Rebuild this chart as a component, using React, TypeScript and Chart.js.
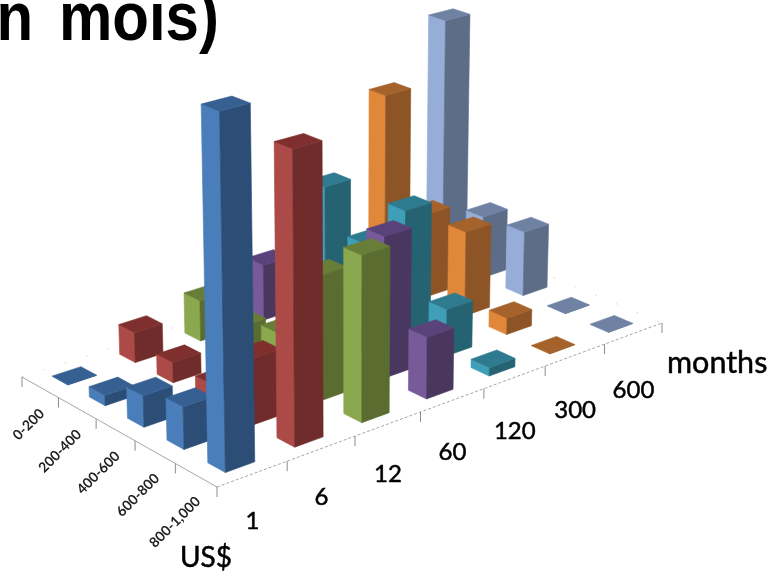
import React, { useEffect, useRef } from "react";
import { Chart, registerables } from "chart.js";

Chart.register(...registerables);

const heading = "n mois)";
const incomeTitle = "US$";
const durationTitle = "months";
const incomeBands = ["0-200", "200-400", "400-600", "600-800", "800-1,000"];
const durations = ["1", "6", "12", "60", "120", "300", "600"];

// One list per duration, one value per income band (share of the tallest bar)
const month1 = [0.1, 3, 9, 12, 100];
const month6 = [9, 6, 5.5, 19, 84];
const month12 = [12.3, 10, 14, 36.5, 48];
const month60 = [17, 8, 14, 42, 18];
const month120 = [35.5, 23, 38.5, 14, 2.5];
const month300 = [59, 26, 26, 5, 0.1];
const month600 = [78, 19.5, 20, 0.1, 0.1];

const seriesValues = [month1, month6, month12, month60, month120, month300, month600];

// left face, right face, top face
const palette = [
  ["#4a7ebb", "#2c4d75", "#376092"],
  ["#ab4a47", "#6f2c2a", "#7f302e"],
  ["#8aa84d", "#5a6c30", "#687d37"],
  ["#775a9a", "#4a3760", "#59437a"],
  ["#3f9fb8", "#256373", "#2e7a8f"],
  ["#e1873a", "#8d5525", "#a5622a"],
  ["#96add7", "#5d6d88", "#6f82a3"],
];

type P = { x: number; y: number };

// Floor corners on the canvas: far-left, far-back, far-right, front
const floor: P[] = [
  { x: 22, y: 377 },
  { x: 455, y: 236 },
  { x: 662, y: 323 },
  { x: 217, y: 487 },
];

function makeFloorMap(q: P[]) {
  const sx = q[0].x - q[1].x + q[2].x - q[3].x;
  const sy = q[0].y - q[1].y + q[2].y - q[3].y;
  const dx1 = q[1].x - q[2].x;
  const dy1 = q[1].y - q[2].y;
  const dx2 = q[3].x - q[2].x;
  const dy2 = q[3].y - q[2].y;
  const den = dx1 * dy2 - dx2 * dy1;
  const g = (sx * dy2 - dx2 * sy) / den;
  const h = (dx1 * sy - sx * dy1) / den;
  const a = q[1].x - q[0].x + g * q[1].x;
  const b = q[3].x - q[0].x + h * q[3].x;
  const d = q[1].y - q[0].y + g * q[1].y;
  const e = q[3].y - q[0].y + h * q[3].y;
  const frontW = h + 1;
  return (u: number, v: number) => {
    const w = g * u + h * v + 1;
    return { x: (a * u + b * v + q[0].x) / w, y: (d * u + e * v + q[0].y) / w, s: frontW / w };
  };
}

const toFloor = makeFloorMap(floor);
const FULL_HEIGHT = 365;
const LEAN = 1.3e-4;
const LEAN_CENTER = 350;
const BAR_FRACTION = 0.42;

// Floor position plus height above it, with verticals converging slightly downward
function project(u: number, v: number, lift: number): P {
  const p = toFloor(u, v);
  const px = lift * FULL_HEIGHT * p.s;
  return { x: p.x + (p.x - LEAN_CENTER) * LEAN * px, y: p.y - px };
}

function face(ctx: CanvasRenderingContext2D, pts: P[], color: string) {
  ctx.beginPath();
  pts.forEach((p, i) => (i ? ctx.lineTo(p.x, p.y) : ctx.moveTo(p.x, p.y)));
  ctx.closePath();
  ctx.fillStyle = color;
  ctx.strokeStyle = color;
  ctx.lineWidth = 0.6;
  ctx.fill();
  ctx.stroke();
}

// Axis captions get a hairline outline to thicken the regular weight a little
function heavyText(ctx: CanvasRenderingContext2D, text: string, x: number, y: number) {
  ctx.fillText(text, x, y);
  ctx.strokeStyle = ctx.fillStyle as string;
  ctx.lineWidth = 0.5;
  ctx.strokeText(text, x, y);
}

const bars3d = {
  id: "bars3d",
  afterDatasetsDraw(chart: any) {
    const ctx: CanvasRenderingContext2D = chart.ctx;
    const rows = chart.scales.x;
    const cols = chart.scales.months;
    const vals = chart.scales.y;
    const nCols = durations.length;
    const nRows = incomeBands.length;
    const hu = BAR_FRACTION / nCols / 2;
    const hv = BAR_FRACTION / nRows / 2;

    const drawFloor = () => {
      ctx.save();
      ctx.lineWidth = 1;
      const l = project(0, 0, 0);
      const f = project(0, 1, 0);
      const r = project(1, 1, 0);
      const b = project(1, 0, 0);
      // The far edges are barely there: only sparse specks survive
      ctx.strokeStyle = "#d4d4d4";
      ctx.setLineDash([1.5, 21]);
      ctx.beginPath();
      ctx.moveTo(l.x, l.y);
      ctx.lineTo(b.x, b.y);
      ctx.lineTo(r.x, r.y);
      ctx.stroke();
      ctx.strokeStyle = "#a6a6a6";
      ctx.setLineDash([]);
      ctx.beginPath();
      ctx.moveTo(l.x, l.y);
      ctx.lineTo(f.x, f.y);
      ctx.stroke();
      ctx.setLineDash([3, 2]);
      ctx.beginPath();
      ctx.moveTo(f.x, f.y);
      ctx.lineTo(r.x, r.y);
      ctx.stroke();
      ctx.setLineDash([]);
      ctx.strokeStyle = "#8c8c8c";
      for (let i = 0; i <= nRows; i++) {
        const t = project(0, i / nRows, 0);
        ctx.beginPath();
        ctx.moveTo(t.x, t.y);
        ctx.lineTo(t.x, t.y + 10);
        ctx.stroke();
      }
      for (let i = 1; i <= nCols; i++) {
        const t = project(i / nCols, 1, 0);
        ctx.beginPath();
        ctx.moveTo(t.x, t.y);
        ctx.lineTo(t.x, t.y + 10);
        ctx.stroke();
      }
      ctx.restore();
    };
    drawFloor();

    // Painter's order: back row first, and within a row the longest duration first
    for (let r = 0; r < nRows; r++) {
      for (let c = nCols - 1; c >= 0; c--) {
        const el = chart.getDatasetMeta(c).data[r];
        const v = (el.x - rows.left) / rows.width;
        const u = (cols.getPixelForTick(c) - cols.left) / cols.width;
        const lift = (vals.bottom - el.y) / vals.height;
        const [leftC, rightC, topC] = palette[c];
        const p = (a: number, b: number, h: number) => project(u + a * hu, v + b * hv, h);
        face(ctx, [p(-1, -1, 0), p(-1, 1, 0), p(-1, 1, lift), p(-1, -1, lift)], leftC);
        face(ctx, [p(-1, 1, 0), p(1, 1, 0), p(1, 1, lift), p(-1, 1, lift)], rightC);
        face(ctx, [p(-1, -1, lift), p(-1, 1, lift), p(1, 1, lift), p(1, -1, lift)], topC);
      }
    }

    ctx.save();
    ctx.fillStyle = "#000";
    ctx.textBaseline = "middle";
    ctx.textAlign = "center";
    ctx.font = "24px Lato";
    durations.forEach((label, i) => {
      const m = project((i + 0.5) / nCols, 1, 0);
      heavyText(ctx, label, m.x, m.y + 47 + (10 * i) / (nCols - 1));
    });
    ctx.font = "bold 14px Lato";
    ctx.fillStyle = "#222";
    incomeBands.forEach((label, i) => {
      const m = project(0, (i + 0.5) / nRows, 0);
      ctx.save();
      ctx.translate(m.x + 2, m.y + 24);
      ctx.rotate(-Math.PI / 4);
      ctx.textAlign = "right";
      ctx.fillText(label, 0, 0);
      ctx.restore();
    });
    ctx.fillStyle = "#000";
    ctx.font = "30.5px Lato";
    ctx.textAlign = "left";
    heavyText(ctx, durationTitle, 667, 363);
    ctx.font = "28px Lato";
    heavyText(ctx, incomeTitle, 180, 558);

    // The heading runs off the left edge and is stretched taller than its natural width
    ctx.save();
    ctx.font = "bold 60px 'Liberation Sans'";
    ctx.textBaseline = "alphabetic";
    (ctx as any).wordSpacing = "9px";
    ctx.translate(-3.4, 39.5);
    ctx.scale(1, 1.13);
    ctx.fillText(heading, 0, 0);
    ctx.restore();
    ctx.restore();
  },
};

export default function App() {
  const ref = useRef<HTMLCanvasElement>(null);
  useEffect(() => {
    const chart = new Chart(ref.current!, {
      type: "line",
      data: {
        labels: incomeBands,
        datasets: seriesValues.map((values, i) => ({
          label: durations[i],
          data: values,
          showLine: false,
          pointRadius: 0,
        })),
      },
      options: {
        responsive: false,
        animation: false,
        plugins: { legend: { display: false }, tooltip: { enabled: false } },
        scales: {
          x: { type: "category", offset: true, display: false },
          months: { type: "category", axis: "x", labels: durations, offset: true, display: false },
          y: { type: "linear", min: 0, max: 100, display: false },
        },
      },
      plugins: [bars3d],
    } as any);
    return () => chart.destroy();
  }, []);
  return (
    <div style={{ position: "absolute", left: 0, top: 0, width: 770, height: 572, background: "#fff" }}>
      <canvas ref={ref} width={770} height={572} style={{ display: "block" }} />
    </div>
  );
}
